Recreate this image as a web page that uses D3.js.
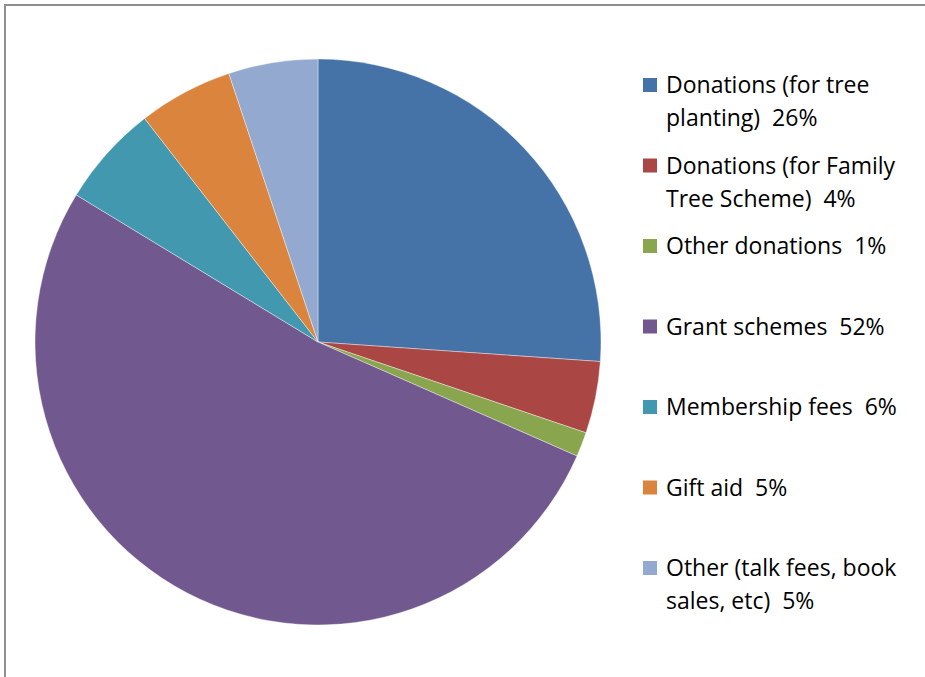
<!DOCTYPE html>
<html>
<head>
<meta charset="utf-8">
<script src="https://cdn.jsdelivr.net/npm/d3@7"></script>
<style>
  body { margin: 0; background: #fff; }
  text { font-family: "Open Sans", "Liberation Sans", sans-serif; fill: #000; white-space: pre; }
</style>
</head>
<body>
<div id="chart-area"></div>
<script>
const WIDTH = 925;
const HEIGHT = 677;

// categories, wrapped the way the legend shows them
const categories = [
  ["Donations (for tree", "planting)"],
  ["Donations (for Family", "Tree Scheme)"],
  ["Other donations"],
  ["Grant schemes"],
  ["Membership fees"],
  ["Gift aid"],
  ["Other (talk fees, book", "sales, etc)"]
];
// share of income, %
const values = [26.1, 4.1, 1.4, 52.1, 5.8, 5.4, 5.1];
const colors = ["#4572A7", "#AA4643", "#89A54E", "#71588F", "#4198AF", "#DB843D", "#93A9CF"];

const CX = 318, CY = 342, R = 283;

const svg = d3.select("#chart-area").append("svg")
  .attr("width", WIDTH)
  .attr("height", HEIGHT);

// chart frame (only top and left edges visible)
svg.append("rect")
  .attr("x", 5)
  .attr("y", 5)
  .attr("width", 1000)
  .attr("height", 1000)
  .attr("fill", "none")
  .attr("stroke", "#8e8e8e")
  .attr("stroke-width", 2);

const pie = d3.pie().sort(null).value(d => d);
const arc = d3.arc().innerRadius(0).outerRadius(R);

const g = svg.append("g")
  .attr("transform", `translate(${CX}, ${CY})`);

g.selectAll("path")
  .data(pie(values))
  .enter()
  .append("path")
  .attr("d", arc)
  .attr("fill", (d, i) => colors[i])
  .attr("stroke", "#fff")
  .attr("stroke-width", 0.4);

// legend
const LEG_X = 643, LEG_Y = 78, LEG_STEP = 80.5, LINE_H = 33;

const legend = svg.append("g");
const items = legend.selectAll("g")
  .data(categories)
  .enter()
  .append("g")
  .attr("transform", (d, i) => `translate(${LEG_X}, ${LEG_Y + i * LEG_STEP})`);

items.append("rect")
  .attr("width", 14)
  .attr("height", 14)
  .attr("fill", (d, i) => colors[i]);

items.each(function (lines, i) {
  const t = d3.select(this).append("text")
    .attr("font-size", "23px");
  lines.forEach((line, j) => {
    const last = j === lines.length - 1;
    t.append("tspan")
      .attr("x", 23)
      .attr("y", 15 + j * LINE_H)
      .text(last ? `${line}  ${Math.round(values[i])}%` : line);
  });
});
</script>
</body>
</html>
